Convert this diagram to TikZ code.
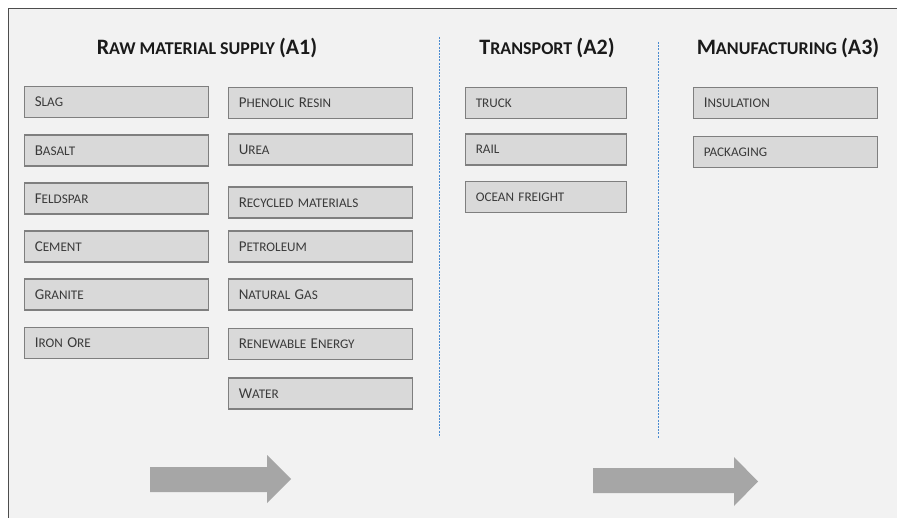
\documentclass[tikz,border=0pt]{standalone}
\usepackage{fontspec}
\setmainfont{Carlito}
\usetikzlibrary{shadows}
\definecolor{bgc}{HTML}{F2F2F2}
\definecolor{boxfill}{HTML}{D9D9D9}
\definecolor{boxdraw}{HTML}{7F7F7F}
\definecolor{txtc}{HTML}{3A3A3A}
\definecolor{titc}{HTML}{1A1A1A}
\definecolor{arrc}{HTML}{A6A6A6}
\definecolor{sepc}{HTML}{4A8BD0}
\definecolor{framec}{HTML}{4D4D4D}
\newcommand\Bx[1]{{\fontsize{15}{17}\selectfont #1}}
\newcommand\Tx[1]{{\fontsize{22}{25}\selectfont #1}}
\begin{document}
\begin{tikzpicture}[x=1pt,y=-1pt,
  itembox/.style={draw=boxdraw, line width=1.2pt, fill=boxfill,
    drop shadow={shadow xshift=0.7pt, shadow yshift=-0.8pt, opacity=0.3, fill=black},
    inner xsep=10pt, inner ysep=0pt, minimum height=31pt, align=left,
    text=txtc, font=\fontsize{13.2}{15}\selectfont},
  wide/.style={text width=163.4pt},
  narrow/.style={text width=140.4pt},
  title/.style={text=titc, font=\fontsize{18}{21}\selectfont\bfseries, inner sep=0pt},
  sep/.style={draw=sepc, line width=1pt, dash pattern=on 2pt off 1.2pt},
  bigarrow/.style={fill=arrc, draw=none}
]
\useasboundingbox (0,0) rectangle (897,518);
\fill[white] (0,0) rectangle (897,518);
\fill[bgc] (8,9) rectangle (897,518);
\draw[framec, line width=1pt] (8,518) -- (8,9) -- (897,9);

% titles
\node[title] (t1) at (207,48) {\Tx{R}AW MATERIAL SUPPLY \Tx{(A1)}};
\node[title] (t2) at (547,48) {\Tx{T}RANSPORT \Tx{(A2)}};
\node[title] (t3) at (788,48) {\Tx{M}ANUFACTURING \Tx{(A3)}};

% column 1
\node[itembox, wide] (slag)     at (116.5,102)   {\Bx{S}LAG};
\node[itembox, wide] (basalt)   at (116.5,150.5) {\Bx{B}ASALT};
\node[itembox, wide] (feldspar) at (116.5,198.5) {\Bx{F}ELDSPAR};
\node[itembox, wide] (cement)   at (116.5,246.5) {\Bx{C}EMENT};
\node[itembox, wide] (granite)  at (116.5,294.5) {\Bx{G}RANITE};
\node[itembox, wide] (ironore)  at (116.5,343)   {\Bx{I}RON \Bx{O}RE};

% column 2
\node[itembox, wide] (phenolic)  at (320.5,103)   {\Bx{P}HENOLIC \Bx{R}ESIN};
\node[itembox, wide] (urea)      at (320.5,149.5) {\Bx{U}REA};
\node[itembox, wide] (recycled)  at (320.5,202.5) {\Bx{R}ECYCLED MATERIALS};
\node[itembox, wide] (petroleum) at (320.5,246.5) {\Bx{P}ETROLEUM};
\node[itembox, wide] (natgas)    at (320.5,294.5) {\Bx{N}ATURAL \Bx{G}AS};
\node[itembox, wide] (renew)     at (320.5,344)   {\Bx{R}ENEWABLE \Bx{E}NERGY};
\node[itembox, wide] (water)     at (320.5,393.5) {\Bx{W}ATER};

% transport
\node[itembox, narrow] (truck) at (546,103)   {TRUCK};
\node[itembox, narrow] (rail)  at (546,149.5) {RAIL};
\node[itembox, narrow] (ocean) at (546,197)   {OCEAN FREIGHT};

% manufacturing
\node[itembox, wide] (insul) at (785.5,103) {\Bx{I}NSULATION};
\node[itembox, wide] (pack)  at (785.5,152) {PACKAGING};

% separators
\coordinate (s1t) at (439.5,37);
\coordinate (s1b) at (439.5,437);
\coordinate (s2t) at (658.5,42);
\coordinate (s2b) at (658.5,438);
\draw[sep] (s1t) -- (s1b);
\draw[sep] (s2t) -- (s2b);

% big arrows
\fill[bigarrow] (150,467) -- (267,467) -- (267,455) -- (291,479) -- (267,503) -- (267,492) -- (150,492) -- cycle;
\fill[bigarrow] (593,468) -- (734,468) -- (734,457) -- (758,481.5) -- (734,506) -- (734,493) -- (593,493) -- cycle;
\end{tikzpicture}
\end{document}
